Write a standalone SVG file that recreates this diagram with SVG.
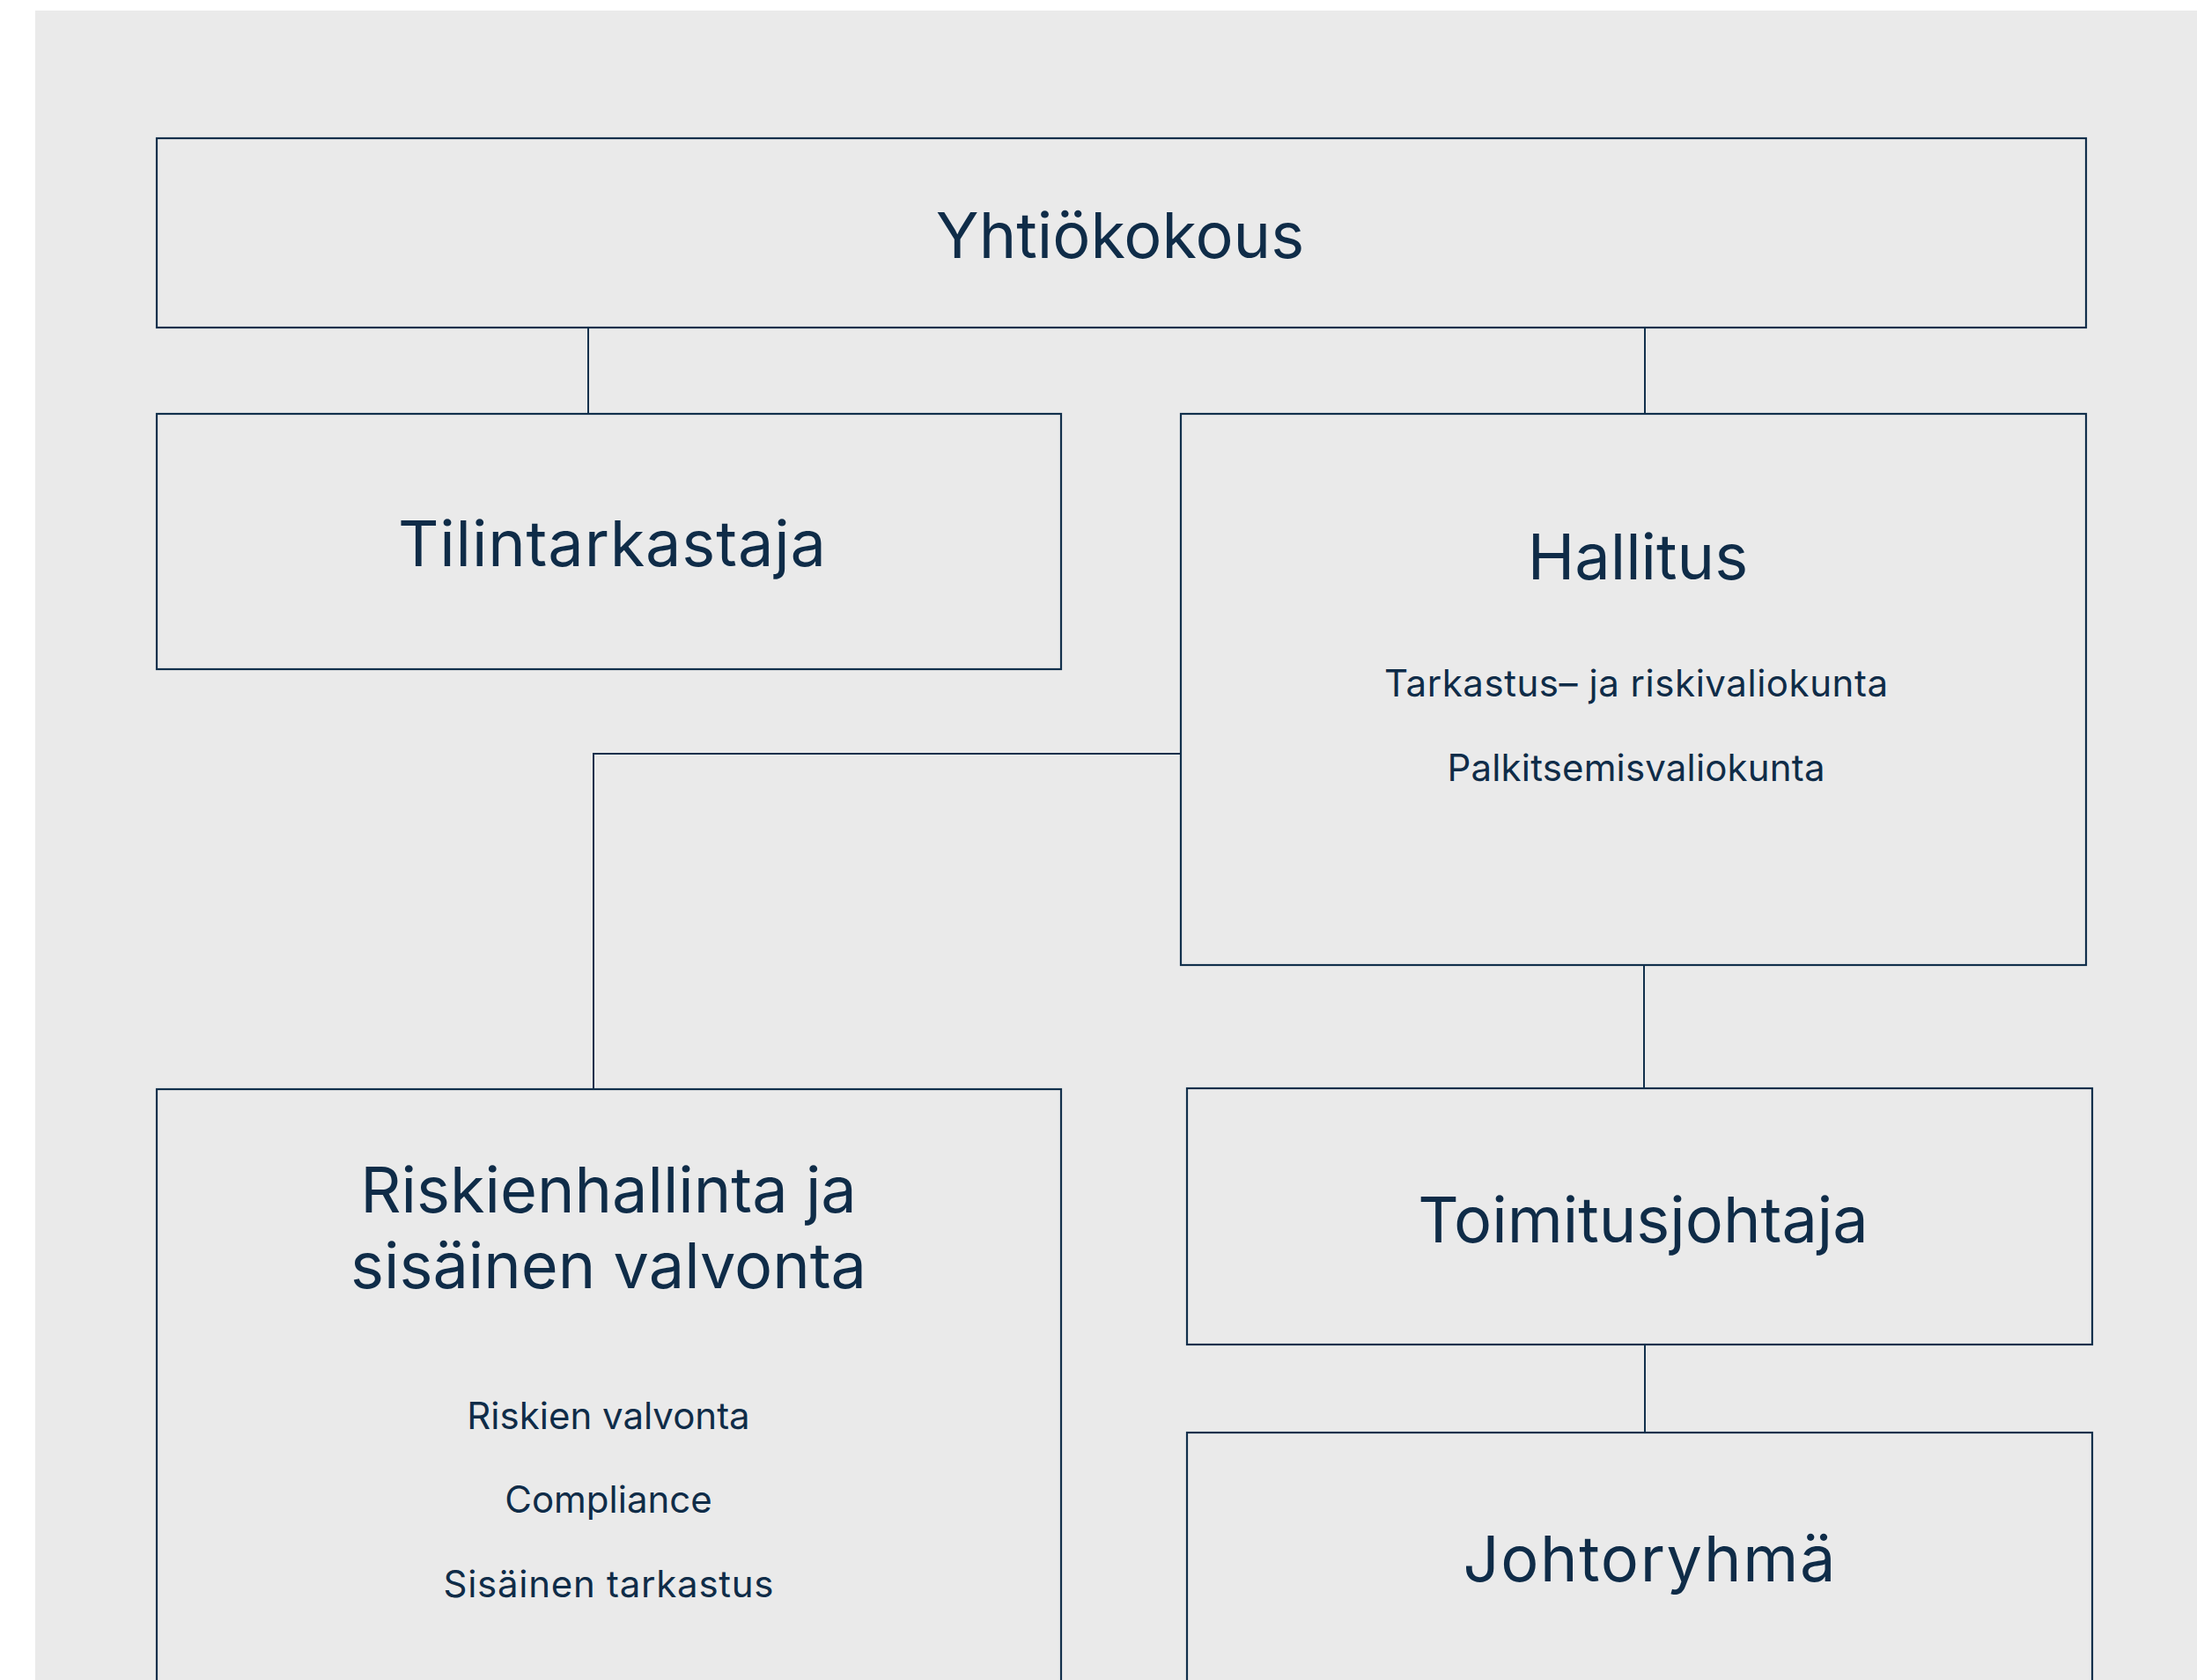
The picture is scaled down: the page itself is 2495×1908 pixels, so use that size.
<svg xmlns="http://www.w3.org/2000/svg" width="2495" height="1908" viewBox="0 0 2495 1908">
<style>
.box{fill:#eaeaea;stroke:#12304c;stroke-width:2.2}
.con{fill:none;stroke:#12304c;stroke-width:2}
.t{font-family:Inter,"Liberation Sans",sans-serif;fill:#0f2c48;text-anchor:middle}
.big{font-size:72px}
.small{font-size:42px}
</style>
<rect x="0" y="0" width="2495" height="1908" fill="#ffffff"/>
<rect x="40" y="12" width="2455" height="1896" fill="#eaeaea"/>
<g id="connectors">
<path class="con" d="M668 372V470"/>
<path class="con" d="M1868 372V470"/>
<path class="con" d="M1341 856H674V1237"/>
<path class="con" d="M1867 1096V1236"/>
<path class="con" d="M1868 1527V1627"/>
</g>
<g id="yhtiokokous">
<rect class="box" x="178" y="157" width="2191" height="215"/>
<text class="t big" x="1272" y="293">Yhtiökokous</text>
</g>
<g id="tilintarkastaja">
<rect class="box" x="178" y="470" width="1027" height="290"/>
<text class="t big" x="695" y="643" textLength="486" lengthAdjust="spacing">Tilintarkastaja</text>
</g>
<g id="hallitus">
<rect class="box" x="1341" y="470" width="1028" height="626"/>
<text class="t big" x="1860" y="658">Hallitus</text>
<text class="t small" x="1858" y="791" textLength="572" lengthAdjust="spacing">Tarkastus– ja riskivaliokunta</text>
<text class="t small" x="1858" y="887" textLength="429" lengthAdjust="spacing">Palkitsemisvaliokunta</text>
</g>
<g id="riskienhallinta">
<rect class="box" x="178" y="1237" width="1027" height="720"/>
<text class="t big" x="691" y="1377">Riskienhallinta ja</text>
<text class="t big" x="691" y="1463">sisäinen valvonta</text>
<text class="t small" x="691" y="1623">Riskien valvonta</text>
<text class="t small" x="691" y="1718">Compliance</text>
<text class="t small" x="691" y="1814" textLength="375" lengthAdjust="spacing">Sisäinen tarkastus</text>
</g>
<g id="toimitusjohtaja">
<rect class="box" x="1348" y="1236" width="1028" height="291"/>
<text class="t big" x="1866" y="1411">Toimitusjohtaja</text>
</g>
<g id="johtoryhma">
<rect class="box" x="1348" y="1627" width="1028" height="330"/>
<text class="t big" x="1873" y="1796" textLength="423" lengthAdjust="spacing">Johtoryhmä</text>
</g>
</svg>
